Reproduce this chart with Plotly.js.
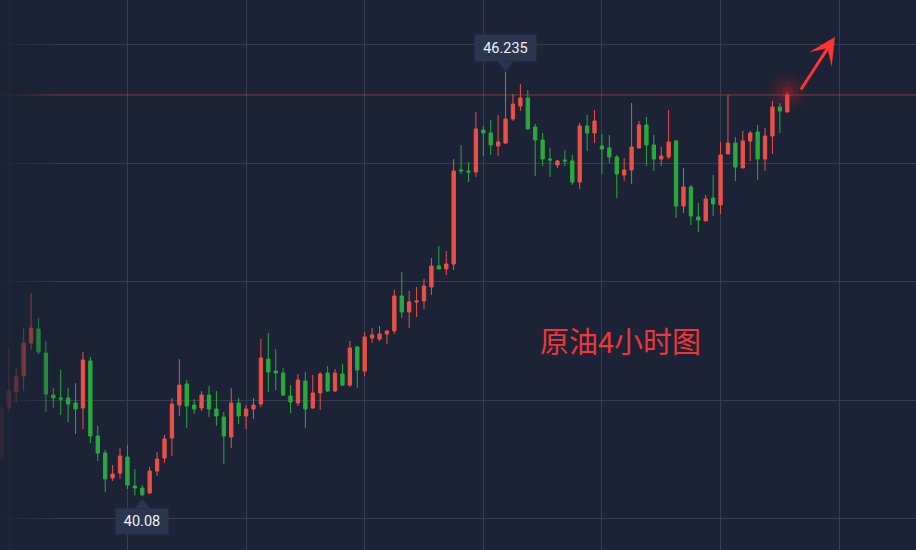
<!DOCTYPE html>
<html>
<head>
<meta charset="utf-8">
<script src="https://cdn.plot.ly/plotly-3.0.1.min.js"></script>
<style>html,body{margin:0;padding:0;background:#1c2336;}#chart{width:916px;height:550px;}</style>
</head>
<body>
<div id="chart"></div>
<script>
// 4-hour crude oil candles
const open = [
40.662, 41.358, 41.59, 41.822, 42.30, 42.503, 42.155, 41.546, 41.503, 41.503,
41.43, 41.358, 42.039, 40.952, 40.705, 40.343, 40.415, 40.647, 40.227, 40.198,
40.125, 40.444, 40.633, 40.923, 41.40, 41.706, 41.40, 41.358, 41.546, 41.343,
41.227, 40.937, 41.43, 41.242, 41.343, 41.416, 42.068, 41.894, 41.865, 41.532,
41.43, 41.75, 41.358, 41.576, 41.865, 41.605, 41.851, 41.69, 42.243, 41.894,
42.373, 42.358, 42.431, 42.475, 42.982, 42.75, 42.895, 42.91, 43.113, 43.417,
43.374, 43.446, 44.809, 44.795, 44.78, 45.389, 45.346, 45.157, 45.20, 45.549,
45.737, 45.853, 45.433, 45.244, 44.969, 44.882, 44.954, 44.94, 44.635, 45.447,
45.346, 45.157, 45.128, 44.998, 44.737, 44.809, 45.128, 45.462, 45.172, 44.969,
44.998, 45.23, 44.287, 44.563, 44.128, 44.07, 44.403, 44.302, 45.041, 45.20,
44.838, 45.23, 45.36, 44.969, 45.302, 45.723, 45.65
];
const high = [
41.416, 42.228, 41.938, 42.518, 43.025, 42.663, 42.33, 41.648, 41.909, 41.648,
41.72, 42.17, 42.097, 41.097, 40.749, 40.531, 40.778, 40.82, 40.473, 40.24,
40.502, 40.72, 40.966, 41.503, 42.068, 41.764, 41.488, 41.605, 41.677, 41.605,
41.30, 41.648, 41.503, 41.40, 41.503, 42.358, 42.445, 42.213, 41.938, 41.69,
41.851, 41.88, 41.836, 41.88, 41.967, 41.924, 41.996, 42.33, 42.257, 42.46,
42.518, 42.547, 42.489, 43.069, 43.33, 43.055, 43.113, 43.229, 43.533, 43.707,
43.635, 44.969, 45.172, 44.925, 45.65, 45.447, 45.534, 45.607, 46.235, 45.911,
46.056, 45.969, 45.476, 45.346, 45.128, 44.954, 45.099, 45.027, 45.49, 45.607,
45.679, 45.331, 45.317, 45.027, 44.983, 45.781, 45.52, 45.578, 45.317, 45.143,
45.679, 45.244, 44.838, 44.592, 44.331, 44.447, 44.737, 45.215, 45.897, 45.288,
45.375, 45.375, 45.462, 45.418, 45.81, 45.781, 45.94
];
const low = [
40.604, 41.30, 41.43, 41.605, 42.199, 42.141, 41.30, 41.358, 41.257, 41.155,
40.981, 41.054, 40.85, 40.59, 40.14, 40.30, 40.328, 40.183, 40.09, 40.08,
40.11, 40.372, 40.56, 40.662, 41.242, 41.068, 41.271, 41.314, 41.227, 41.097,
40.546, 40.778, 41.126, 41.054, 41.198, 41.372, 41.59, 41.619, 41.532, 41.285,
41.387, 41.068, 41.343, 41.329, 41.59, 41.59, 41.677, 41.663, 41.648, 41.822,
42.30, 42.33, 42.286, 42.431, 42.663, 42.518, 42.678, 42.794, 42.997, 43.374,
43.287, 43.359, 44.751, 44.635, 44.708, 45.012, 45.027, 45.012, 45.186, 45.52,
45.665, 45.404, 44.722, 44.867, 44.708, 44.838, 44.867, 44.592, 44.534, 45.085,
45.20, 44.751, 44.911, 44.403, 44.65, 44.606, 45.128, 44.867, 44.795, 44.867,
44.969, 44.113, 44.186, 44.012, 43.91, 44.07, 44.142, 44.171, 45.041, 44.65,
44.838, 44.94, 44.664, 44.795, 45.041, 45.346, 45.65
];
const close = [
41.358, 41.605, 41.822, 42.30, 42.518, 42.17, 41.561, 41.503, 41.488, 41.416,
41.343, 42.054, 40.952, 40.705, 40.328, 40.401, 40.662, 40.24, 40.198, 40.10,
40.444, 40.618, 40.908, 41.416, 41.69, 41.387, 41.343, 41.546, 41.343, 41.242,
40.952, 41.43, 41.242, 41.343, 41.40, 42.083, 41.88, 41.865, 41.546, 41.445,
41.764, 41.343, 41.576, 41.851, 41.605, 41.865, 41.69, 42.228, 41.909, 42.388,
42.417, 42.431, 42.475, 42.982, 42.75, 42.895, 42.91, 43.127, 43.417, 43.374,
43.446, 44.795, 44.795, 44.78, 45.404, 45.346, 45.172, 45.215, 45.549, 45.766,
45.853, 45.404, 45.244, 44.969, 44.954, 44.94, 44.94, 44.635, 45.447, 45.346,
45.52, 45.114, 44.998, 44.751, 44.809, 45.143, 45.462, 45.172, 44.969, 45.012,
45.215, 44.287, 44.563, 44.142, 44.084, 44.389, 44.316, 45.027, 45.20, 44.853,
45.23, 45.346, 44.969, 45.302, 45.723, 45.665, 45.897
];
const chartTitle = '原油4小时图';

const barIndex = open.map((_, i) => i);
const hiVal = Math.max(...high), hiIdx = high.indexOf(hiVal);
const loVal = Math.min(...low), loIdx = low.indexOf(loVal);
const lastIdx = close.length - 1;
const lastClose = close[lastIdx];
const lastHigh = high[lastIdx];

const BG = '#1c2336', GRID = '#343d51', UP = '#eb5046', DOWN = '#29aa3b', TAG = '#2a3550';

const traces = [
  {
    type: 'candlestick', x: barIndex, open: open, high: high, low: low, close: close,
    increasing: {line: {color: UP, width: 1}, fillcolor: UP},
    decreasing: {line: {color: DOWN, width: 1}, fillcolor: DOWN},
    whiskerwidth: 0, hoverinfo: 'skip', showlegend: false
  },
  {
    type: 'scatter', mode: 'markers', x: [lastIdx, lastIdx, lastIdx, lastIdx], y: [lastHigh, lastHigh, lastHigh, lastHigh],
    marker: {size: [42, 32, 22, 12], color: ['rgba(255,30,30,0.06)', 'rgba(255,30,30,0.08)', 'rgba(255,30,30,0.12)', 'rgba(255,30,30,0.25)'], line: {width: 0}},
    hoverinfo: 'skip', showlegend: false
  }
];

const shapes = [
  {type: 'line', xref: 'paper', x0: 0, x1: 1, yref: 'y', y0: lastClose, y1: lastClose,
   line: {color: 'rgba(235,80,70,0.5)', width: 1}, layer: 'above'},
  {type: 'path', xref: 'x', yref: 'y', xsizemode: 'pixel', ysizemode: 'pixel',
   xanchor: hiIdx, yanchor: hiVal, path: 'M -8,10 L 8,10 L 0,1 Z', fillcolor: TAG, line: {width: 0}, layer: 'above'},
  {type: 'path', xref: 'x', yref: 'y', xsizemode: 'pixel', ysizemode: 'pixel',
   xanchor: loIdx, yanchor: loVal, path: 'M -8,-12 L 8,-12 L 0,-3 Z', fillcolor: TAG, line: {width: 0}, layer: 'above'}
];
// left-edge fade
for (let i = 0; i < 20; i++) {
  const px0 = i * 3, px1 = px0 + 3;
  const op = Math.max(0, 1 - (px0 + 1.5 + 5) / 65);
  shapes.push({type: 'rect', xref: 'paper', yref: 'paper', x0: px0 / 916, x1: px1 / 916, y0: 0, y1: 1,
    fillcolor: BG, opacity: op, line: {width: 0}, layer: 'above'});
}

const layout = {
  width: 916, height: 550,
  margin: {l: 0, r: 0, t: 0, b: 0},
  paper_bgcolor: BG, plot_bgcolor: BG,
  showlegend: false, boxgap: 0.36,
  xaxis: {range: [-0.189, 123.36], showgrid: true, gridcolor: GRID, gridwidth: 1, tick0: 1, dtick: 16,
          showticklabels: false, ticks: '', zeroline: false, showline: false, rangeslider: {visible: false}},
  yaxis: {range: [39.299, 47.274], showgrid: true, gridcolor: GRID, gridwidth: 1, tick0: 41.47, dtick: 1.7195,
          showticklabels: false, ticks: '', zeroline: false, showline: false},
  shapes: shapes,
  annotations: [
    {xref: 'x', yref: 'y', x: hiIdx, y: hiVal, text: hiVal.toFixed(3), showarrow: false,
     yanchor: 'bottom', yshift: 10, width: 61, height: 26, bgcolor: TAG, borderpad: 0,
     font: {family: 'Roboto, sans-serif', size: 14.5, color: '#f2f2f2'}},
    {xref: 'x', yref: 'y', x: loIdx, y: loVal, text: loVal.toFixed(2), showarrow: false,
     yanchor: 'top', yshift: -12, width: 52, height: 25, bgcolor: TAG, borderpad: 0,
     font: {family: 'Roboto, sans-serif', size: 14.5, color: '#f2f2f2'}},
    {xref: 'paper', yref: 'paper', x: 620 / 916, y: 1 - 340 / 550, text: chartTitle, showarrow: false,
     xanchor: 'center', yanchor: 'middle',
     font: {family: '"Noto Sans CJK SC", sans-serif', size: 29, color: '#f03636'}},
    {xref: 'paper', yref: 'paper', x: 835 / 916, y: 1 - 37 / 550, text: '', showarrow: true,
     ax: -35, ay: 54, arrowhead: 3, arrowsize: 1.5, arrowwidth: 3, arrowcolor: '#ff3333'}
  ]
};

Plotly.newPlot('chart', traces, layout, {staticPlot: true, displayModeBar: false});
</script>
</body>
</html>
